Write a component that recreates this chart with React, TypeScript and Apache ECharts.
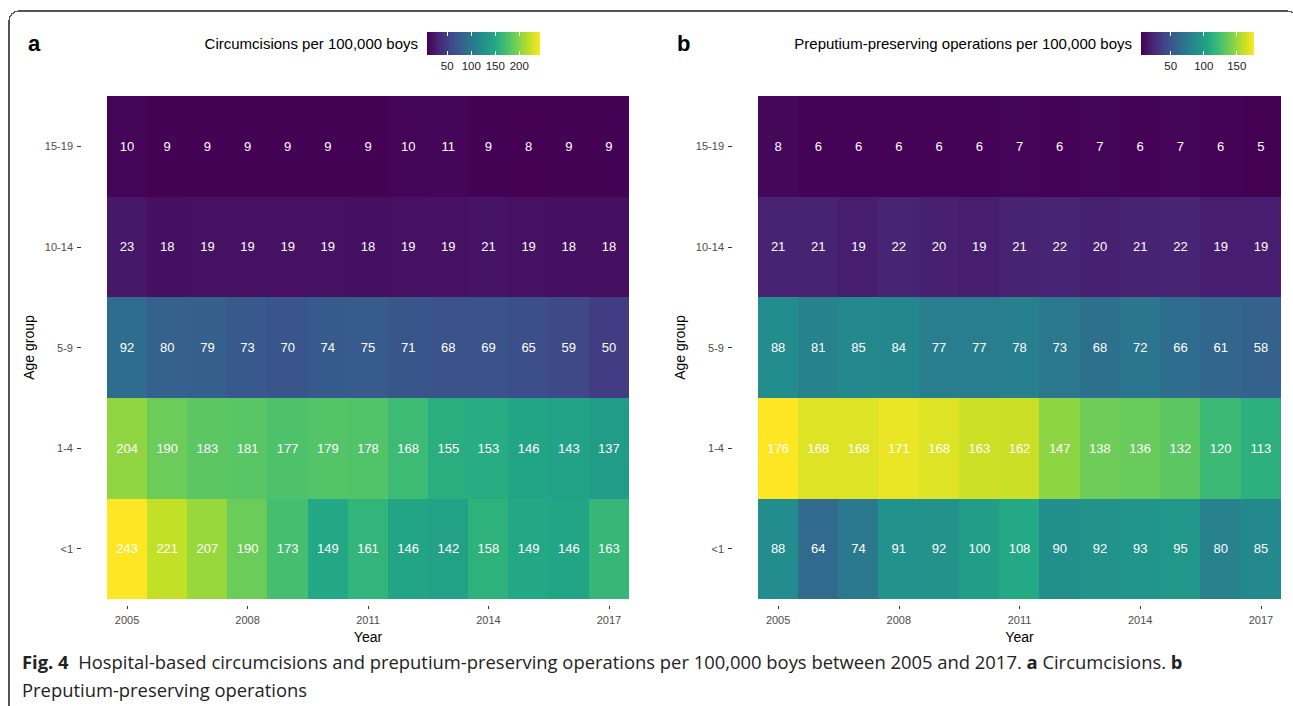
import React, { useEffect, useRef } from "react";
import * as echarts from "echarts";

const years = ["2005","2006","2007","2008","2009","2010","2011","2012","2013","2014","2015","2016","2017"];
const ageGroups = ["<1", "1-4", "5-9", "10-14", "15-19"];

// Panel a: circumcisions per 100,000 boys
const circ_lt1 = [243, 221, 207, 190, 173, 149, 161, 146, 142, 158, 149, 146, 163];
const circ_1_4 = [204, 190, 183, 181, 177, 179, 178, 168, 155, 153, 146, 143, 137];
const circ_5_9 = [92, 80, 79, 73, 70, 74, 75, 71, 68, 69, 65, 59, 50];
const circ_10_14 = [23, 18, 19, 19, 19, 19, 18, 19, 19, 21, 19, 18, 18];
const circ_15_19 = [10, 9, 9, 9, 9, 9, 9, 10, 11, 9, 8, 9, 9];

// Panel b: preputium-preserving operations per 100,000 boys
const prep_lt1 = [88, 64, 74, 91, 92, 100, 108, 90, 92, 93, 95, 80, 85];
const prep_1_4 = [176, 168, 168, 171, 168, 163, 162, 147, 138, 136, 132, 120, 113];
const prep_5_9 = [88, 81, 85, 84, 77, 77, 78, 73, 68, 72, 66, 61, 58];
const prep_10_14 = [21, 21, 19, 22, 20, 19, 21, 22, 20, 21, 22, 19, 19];
const prep_15_19 = [8, 6, 6, 6, 6, 6, 7, 6, 7, 6, 7, 6, 5];

const legendTicksA = [50, 100, 150, 200];
const legendTicksB = [50, 100, 150];

const titleA = "Circumcisions per 100,000 boys";
const titleB = "Preputium-preserving operations per 100,000 boys";

const viridis = ["#440154", "#482475", "#414487", "#355f8d", "#2a788e", "#21918c", "#22a884", "#44bf70", "#7ad151", "#bddf26", "#fde725"];

function toCells(rows: number[][]) {
  const out: number[][] = [];
  rows.forEach((row, yi) => row.forEach((v, xi) => out.push([xi, yi, v])));
  return out;
}

const FONT = "Liberation Sans";
const CAP_FONT = "Open Sans";

export default function App() {
  const ref = useRef<HTMLDivElement>(null);
  useEffect(() => {
    if (!ref.current) return;
    const chart = echarts.init(ref.current, undefined, { renderer: "svg" });
    const rowsA = [circ_lt1, circ_1_4, circ_5_9, circ_10_14, circ_15_19];
    const rowsB = [prep_lt1, prep_1_4, prep_5_9, prep_10_14, prep_15_19];
    const flatA = rowsA.flat();
    const flatB = rowsB.flat();
    const minA = Math.min(...flatA), maxA = Math.max(...flatA);
    const minB = Math.min(...flatB), maxB = Math.max(...flatB);

    const grids = [
      { left: 107, top: 96, width: 522, height: 503 },
      { left: 758, top: 96, width: 523, height: 503 },
    ];

    const stops = viridis.map((c, i) => ({ offset: i / (viridis.length - 1), color: c }));

    const legend = (barX: number, min: number, max: number, ticks: number[], title: string) => {
      const barY = 32, barW = 113, barH = 23;
      const els: any[] = [
        {
          type: "text",
          style: { text: title, x: barX - 9, y: barY + barH / 2, align: "right", verticalAlign: "middle", fontSize: 15, fontFamily: FONT, fill: "#000" },
        },
        {
          type: "rect",
          shape: { x: barX, y: barY, width: barW, height: barH },
          style: { fill: new echarts.graphic.LinearGradient(0, 0, 1, 0, stops) },
        },
      ];
      ticks.forEach((t) => {
        const x = barX + ((t - min) / (max - min)) * barW;
        els.push({ type: "line", shape: { x1: x, y1: barY, x2: x, y2: barY + 4 }, style: { stroke: "#fff", lineWidth: 1 } });
        els.push({ type: "line", shape: { x1: x, y1: barY + barH - 4, x2: x, y2: barY + barH }, style: { stroke: "#fff", lineWidth: 1 } });
        els.push({ type: "text", style: { text: String(t), x, y: barY + barH + 11, align: "center", verticalAlign: "middle", fontSize: 11.5, fontFamily: FONT, fill: "#1a1a1a" } });
      });
      return els;
    };

    const xAxisCfg = (gi: number) => ({
      type: "category",
      gridIndex: gi,
      data: years,
      offset: 7,
      axisLine: { show: false },
      axisTick: { show: true, interval: 2, alignWithLabel: true, length: 3, lineStyle: { color: "#333" } },
      axisLabel: { interval: 2, color: "#4d4d4d", fontSize: 11, fontFamily: FONT, margin: 8 },
      splitLine: { show: false },
      name: "Year",
      nameLocation: "middle",
      nameGap: 23,
      nameTextStyle: { color: "#000", fontSize: 14, fontFamily: FONT },
    });
    const yAxisCfg = (gi: number) => ({
      type: "category",
      gridIndex: gi,
      data: ageGroups,
      offset: 26,
      axisLine: { show: false },
      axisTick: { show: true, alignWithLabel: true, length: 4, lineStyle: { color: "#333" } },
      axisLabel: { color: "#4d4d4d", fontSize: 11, fontFamily: FONT, margin: 8 },
      splitLine: { show: false },
      name: "Age group",
      nameLocation: "middle",
      nameGap: 45,
      nameTextStyle: { color: "#000", fontSize: 14, fontFamily: FONT },
    });

    const labelCfg = { show: true, color: "#fff", fontSize: 13, fontFamily: FONT };

    chart.setOption({
      animation: false,
      backgroundColor: "#fff",
      grid: grids,
      xAxis: [xAxisCfg(0), xAxisCfg(1)],
      yAxis: [yAxisCfg(0), yAxisCfg(1)],
      visualMap: [
        { type: "continuous", show: false, seriesIndex: 0, min: minA, max: maxA, inRange: { color: viridis } },
        { type: "continuous", show: false, seriesIndex: 1, min: minB, max: maxB, inRange: { color: viridis } },
      ],
      series: [
        { type: "heatmap", xAxisIndex: 0, yAxisIndex: 0, data: toCells(rowsA), label: labelCfg, itemStyle: { borderWidth: 0 } },
        { type: "heatmap", xAxisIndex: 1, yAxisIndex: 1, data: toCells(rowsB), label: labelCfg, itemStyle: { borderWidth: 0 } },
      ],
      graphic: [
        {
          type: "rect",
          shape: { x: 9, y: 11, width: 1288, height: 760, r: [10, 10, 0, 0] },
          style: { fill: "none", stroke: "#555", lineWidth: 1.2 },
          silent: true,
        },
        { type: "text", style: { text: "a", x: 28, y: 43, verticalAlign: "middle", fontSize: 22, fontWeight: "bold", fontFamily: FONT, fill: "#000" } },
        { type: "text", style: { text: "b", x: 677, y: 43, verticalAlign: "middle", fontSize: 22, fontWeight: "bold", fontFamily: FONT, fill: "#000" } },
        ...legend(427, minA, maxA, legendTicksA, titleA),
        ...legend(1141, minB, maxB, legendTicksB, titleB),
        {
          type: "text",
          style: {
            x: 22,
            y: 661,
            verticalAlign: "middle",
            text: "{b|Fig. 4}  Hospital-based circumcisions and preputium-preserving operations per 100,000 boys between 2005 and 2017. {b|a} Circumcisions. {b|b}",
            fontSize: 18.4,
            fontFamily: CAP_FONT,
            fill: "#222",
            rich: { b: { fontWeight: "bold", fontSize: 18.4, fontFamily: CAP_FONT, fill: "#222" } },
          },
        },
        {
          type: "text",
          style: { x: 22, y: 689, verticalAlign: "middle", text: "Preputium-preserving operations", fontSize: 18.4, fontFamily: CAP_FONT, fill: "#222" },
        },
      ],
    });
    return () => chart.dispose();
  }, []);
  return (
    <>
      <style>{`.hm-root svg rect, .hm-root svg path { shape-rendering: crispEdges; }`}</style>
      <div className="hm-root" ref={ref} style={{ position: "fixed", left: 0, top: 0, width: 1293, height: 706 }} />
    </>
  );
}
